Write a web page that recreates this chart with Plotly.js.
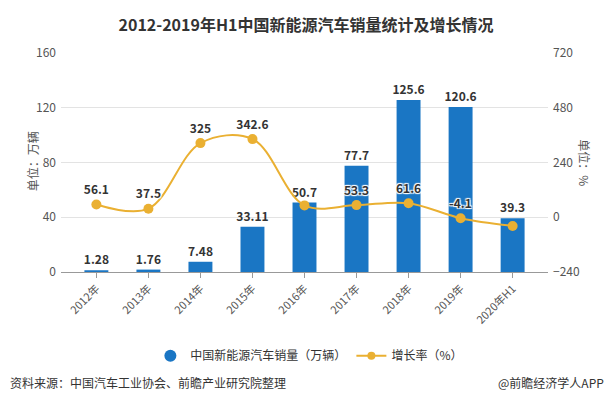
<!DOCTYPE html>
<html>
<head>
<meta charset="utf-8">
<script src="https://cdn.plot.ly/plotly-3.0.1.min.js"></script>
<style>html,body{margin:0;padding:0;background:#fff;}#chart{width:612px;height:405px;}</style>
</head>
<body>
<div id="chart"></div>
<script>
const categories = ["2012年","2013年","2014年","2015年","2016年","2017年","2018年","2019年","2020年H1"];
const sales = [1.28, 1.76, 7.48, 33.11, 50.7, 77.7, 125.6, 120.6, 39.3];
const salesLabels = ["1.28","1.76","7.48","33.11","50.7","77.7","125.6","120.6","39.3"];
const growth = [56.1, 37.5, 325, 342.6, 52, 53.3, 61.6, -4.1, -38];
const growthLabels = ["56.1","37.5","325","342.6","","53.3","61.6","-4.1",""];
const salesName = "中国新能源汽车销量（万辆）";
const growthName = "增长率（%）";

const BLUE = "#1a76c4";
const GOLD = "#eab032";
const FONT = "'Noto Sans CJK SC', 'Noto Sans', sans-serif";

const traces = [
  {
    type: "bar", x: categories, y: sales, text: salesLabels,
    textposition: "outside", cliponaxis: false, constraintext: "none",
    textfont: {family: FONT, size: 12, color: "#333", weight: 700},
    marker: {color: BLUE}, width: 0.46, showlegend: false, hoverinfo: "skip"
  },
  {
    type: "scatter", mode: "lines+markers+text", x: categories, y: growth, yaxis: "y2",
    text: growthLabels, textposition: "top center", cliponaxis: false,
    textfont: {family: FONT, size: 12, color: "#333", weight: 700,
      shadow: "1px 1px 1px #fff, -1px -1px 1px #fff, 1px -1px 1px #fff, -1px 1px 1px #fff"},
    line: {color: GOLD, width: 2, shape: "spline", smoothing: 1},
    marker: {color: GOLD, size: 10}, showlegend: false, hoverinfo: "skip"
  },
  {
    type: "scatter", mode: "markers", x: [null], y: [null], name: salesName,
    marker: {color: BLUE, size: 12, symbol: "circle"}, showlegend: true
  },
  {
    type: "scatter", mode: "lines+markers", x: [null], y: [null], yaxis: "y2", name: growthName,
    line: {color: GOLD, width: 2}, marker: {color: GOLD, size: 8}, showlegend: true
  }
];

const px = v => (v - 61) / 487;
const py = v => (272.3 - v) / 219;

const layout = {
  width: 612, height: 405,
  margin: {l: 61, r: 64, t: 53, b: 133},
  paper_bgcolor: "#fff", plot_bgcolor: "#fff",
  font: {family: FONT, color: "#555", size: 12},
  title: {text: "<b>2012-2019年H1中国新能源汽车销量统计及增长情况</b>",
    font: {family: FONT, size: 16, color: "#333"},
    x: 0.5, xanchor: "center", y: 1 - 25/405, yref: "container", yanchor: "middle"},
  xaxis: {
    type: "category", range: [-0.68, 8.68], tickangle: -45,
    ticks: "outside", ticklen: 5, tickcolor: "#999",
    showline: true, linecolor: "#999", linewidth: 1,
    showgrid: false, tickfont: {size: 11, color: "#555"}
  },
  yaxis: {
    range: [0, 160], tickvals: [0, 40, 80, 120, 160],
    showgrid: true, gridcolor: "#e3e3e3", zeroline: false,
    showline: false, ticks: "", ticklabelstandoff: 4,
    tickfont: {size: 12, color: "#555"}
  },
  yaxis2: {
    overlaying: "y", side: "right",
    range: [-240, 720], tickvals: [-240, 0, 240, 480, 720],
    showgrid: false, zeroline: false, showline: false, ticks: "",
    ticklabelstandoff: 4,
    tickfont: {size: 12, color: "#555"}
  },
  bargap: 0.5,
  legend: {
    orientation: "h", x: 0.51, xanchor: "center", y: py(356), yanchor: "middle",
    font: {size: 12, color: "#333"}, bgcolor: "rgba(0,0,0,0)"
  },
  annotations: [
    {text: "单位：万辆", xref: "paper", yref: "paper", x: px(22), y: py(162),
     textangle: -90, showarrow: false, font: {size: 12, color: "#555"}},
    {text: "单位：%", xref: "paper", yref: "paper", x: px(595), y: py(163),
     textangle: 90, showarrow: false, font: {size: 12, color: "#555"}},
    {text: "资料来源：中国汽车工业协会、前瞻产业研究院整理", xref: "paper", yref: "paper",
     x: px(8), y: py(383), xanchor: "left", yanchor: "middle", showarrow: false,
     font: {size: 12, color: "#333"}},
    {text: "@前瞻经济学人APP", xref: "paper", yref: "paper",
     x: px(606), y: py(383), xanchor: "right", yanchor: "middle", showarrow: false,
     font: {size: 12, color: "#333"}}
  ]
};

Plotly.newPlot("chart", traces, layout, {staticPlot: true, displayModeBar: false});
</script>
</body>
</html>
